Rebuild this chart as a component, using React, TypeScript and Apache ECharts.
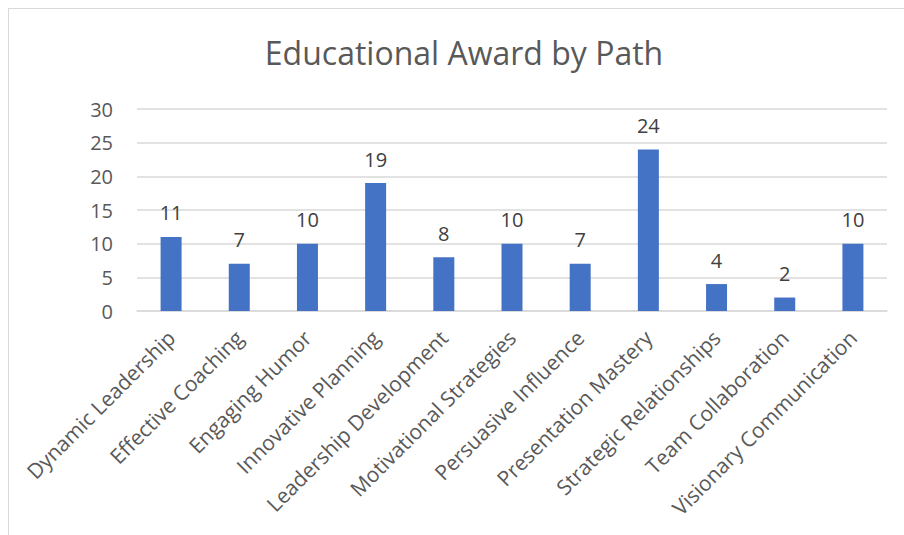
import React, { useEffect, useRef } from "react";
import * as echarts from "echarts";

const categories = [
  "Dynamic Leadership",
  "Effective Coaching",
  "Engaging Humor",
  "Innovative Planning",
  "Leadership Development",
  "Motivational Strategies",
  "Persuasive Influence",
  "Presentation Mastery",
  "Strategic Relationships",
  "Team Collaboration",
  "Visionary Communication",
];
const awards = [11, 7, 10, 19, 8, 10, 7, 24, 4, 2, 10];
const titleText = "Educational Award by Path";

const FONT = "'Open Sans', 'Noto Sans', sans-serif";

export default function App() {
  const ref = useRef<HTMLDivElement>(null);
  useEffect(() => {
    document.body.style.margin = "0";
    const chart = echarts.init(ref.current!, undefined, { renderer: "svg" });
    chart.setOption({
      animation: false,
      backgroundColor: "#ffffff",
      title: {
        text: titleText,
        left: 450,
        textAlign: "center",
        top: 22,
        textStyle: { fontFamily: FONT, fontSize: 32, fontWeight: "normal", color: "#595959" },
      },
      grid: { left: 128, right: 17, top: 100, bottom: 224, containLabel: false },
      xAxis: {
        type: "category",
        data: categories,
        axisLine: { lineStyle: { color: "#d9d9d9", width: 1.5 } },
        axisTick: { show: false },
        axisLabel: {
          rotate: 45,
          interval: 0,
          margin: 23,
          fontFamily: FONT,
          fontSize: 21,
          color: "#595959",
        },
      },
      yAxis: {
        type: "value",
        min: 0,
        max: 30,
        interval: 5,
        axisLine: { show: false },
        axisTick: { show: false },
        splitLine: { lineStyle: { color: "#d9d9d9", width: 1.5 } },
        axisLabel: { margin: 24, fontFamily: FONT, fontSize: 20, color: "#595959" },
      },
      series: [
        {
          type: "bar",
          data: awards,
          barWidth: 21,
          itemStyle: { color: "#4472C4" },
          label: {
            show: true,
            position: "top",
            distance: 14,
            fontFamily: FONT,
            fontSize: 20,
            color: "#404040",
          },
        },
      ],
    });
    return () => chart.dispose();
  }, []);
  return (
    <div
      style={{
        position: "absolute",
        left: 8,
        top: 8,
        width: 896,
        height: 527,
        boxSizing: "border-box",
        borderTop: "1px solid #d9d9d9",
        borderLeft: "1px solid #d9d9d9",
        overflow: "hidden",
        background: "#fff",
      }}
    >
      <div ref={ref} style={{ width: 895, height: 526 }} />
    </div>
  );
}
